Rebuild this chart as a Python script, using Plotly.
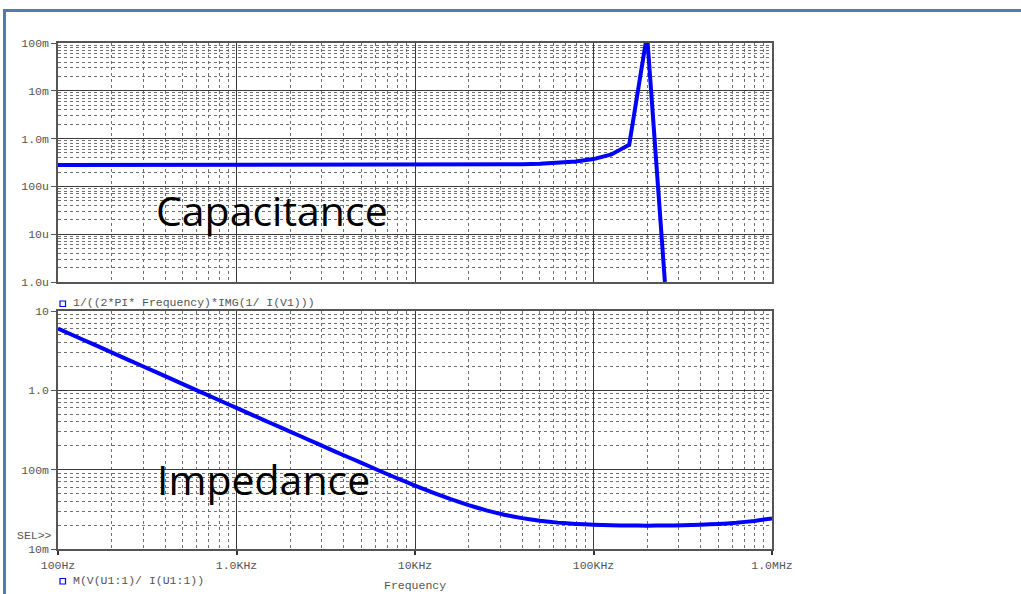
import plotly.graph_objects as go

# ---------------- data ----------------
freq_hz = [100, 125.9, 158.5, 199.5, 251.2, 316.2, 398.1, 501.2, 631.0, 794.3,
           1000, 1259, 1585, 1995, 2512, 3162, 3981, 5012, 6310, 7943,
           10000, 12590, 15850, 19950, 25120, 31620, 39810, 50120, 63100, 79430,
           100000, 125900, 158500, 199500, 251200, 316200, 398100, 501200, 631000, 794300,
           1000000]

capacitance = [2.80e-4, 2.80e-4, 2.80e-4, 2.80e-4, 2.80e-4, 2.80e-4, 2.80e-4, 2.80e-4, 2.80e-4, 2.80e-4,
               2.80e-4, 2.80e-4, 2.80e-4, 2.80e-4, 2.80e-4, 2.80e-4, 2.80e-4, 2.80e-4, 2.80e-4, 2.80e-4,
               2.81e-4, 2.81e-4, 2.82e-4, 2.83e-4, 2.84e-4, 2.87e-4, 2.91e-4, 2.98e-4, 3.09e-4, 3.32e-4,
               3.73e-4, 4.66e-4, 7.45e-4, 0.15, 1.0e-6, None, None, None, None, None,
               None]

impedance = [6.00, 4.77, 3.79, 3.01, 2.39, 1.90, 1.51, 1.20, 0.951, 0.755,
             0.600, 0.477, 0.379, 0.302, 0.240, 0.191, 0.152, 0.122, 0.097, 0.078,
             0.0631, 0.0514, 0.0425, 0.0357, 0.0307, 0.0270, 0.0245, 0.0227, 0.0215, 0.0207,
             0.0202, 0.0199, 0.01975, 0.0197, 0.01975, 0.0199, 0.0202, 0.0207, 0.0214, 0.0226,
             0.0243]

x_tickvals = [100, 1000, 10000, 100000, 1000000]
x_ticktext = ["100Hz", "1.0KHz", "10KHz", "100KHz", "1.0MHz"]
cap_tickvals = [1e-1, 1e-2, 1e-3, 1e-4, 1e-5, 1e-6]
cap_ticktext = ["100m", "10m", "1.0m", "100u", "10u", "1.0u"]
imp_tickvals = [10, 1, 0.1, 0.01]
imp_ticktext = ["10", "1.0", "100m", "10m"]

trace1_label = "1/((2*PI* Frequency)*IMG(1/ I(V1)))"
trace2_label = "M(V(U1:1)/ I(U1:1))"
x_title = "Frequency"

# ---------------- layout helpers ----------------
W, H = 1021, 594
L, R, T, B = 58, 772, 43, 549


def pxx(x):
    return (x - L) / (R - L)


def pyy(y):
    return (B - y) / (B - T)


mono = "Liberation Mono, Courier New, monospace"
tick_font = dict(family=mono, size=11.5, color="#555555")
major_grid = "#3a3a3a"
minor_grid = "#707070"

fig = go.Figure()
fig.add_trace(go.Scatter(x=freq_hz, y=capacitance, mode="lines",
                         line=dict(color="#0000ff", width=4),
                         xaxis="x", yaxis="y", showlegend=False, connectgaps=False))
fig.add_trace(go.Scatter(x=freq_hz, y=impedance, mode="lines",
                         line=dict(color="#0000ff", width=4, shape="spline", smoothing=0.3),
                         xaxis="x2", yaxis="y2", showlegend=False))

minor_cfg = dict(dtick="D1", showgrid=True, gridcolor=minor_grid, griddash="dot",
                 gridwidth=1, ticks="")

common_x = dict(type="log", range=[2, 6], showgrid=True, gridcolor=major_grid, gridwidth=1,
                minor=minor_cfg,
                showline=True, linecolor="#555555", linewidth=1.5, mirror=True,
                zeroline=False, tickvals=x_tickvals, ticktext=x_ticktext,
                tickfont=tick_font)

top_dom = [pyy(282), 1.0]
bot_dom = [0.0, pyy(311)]

common_y = dict(type="log", tickfont=tick_font,
                ticks="outside", ticklen=5, tickcolor="#555555",
                showgrid=True, gridcolor=major_grid, gridwidth=1,
                minor=minor_cfg,
                showline=True, linecolor="#555555", linewidth=1.5, mirror=True, zeroline=False)

fig.update_layout(
    width=W, height=H, autosize=False,
    paper_bgcolor="white", plot_bgcolor="white",
    margin=dict(l=L, r=W - R, t=T, b=H - B),
    xaxis=dict(common_x, anchor="y", showticklabels=False, ticks=""),
    xaxis2=dict(common_x, anchor="y2", matches="x", ticks="outside", ticklen=4,
                tickcolor="#333333", tickwidth=1.5),
    yaxis=dict(common_y, range=[-6, -1], domain=top_dom, anchor="x",
               tickvals=cap_tickvals, ticktext=cap_ticktext),
    yaxis2=dict(common_y, range=[-2, 1], domain=bot_dom, anchor="x2",
                tickvals=imp_tickvals, ticktext=imp_ticktext),
)

frame_color = "#4f7cab"
shapes = [
    dict(type="line", xref="paper", yref="paper", x0=pxx(3), x1=pxx(W),
         y0=pyy(10.5), y1=pyy(10.5), line=dict(color=frame_color, width=3)),
    dict(type="line", xref="paper", yref="paper", x0=pxx(4.5), x1=pxx(4.5),
         y0=pyy(9), y1=pyy(H), line=dict(color=frame_color, width=3)),
    dict(type="rect", xref="paper", yref="paper", x0=pxx(60), x1=pxx(65.5),
         y0=pyy(306.5), y1=pyy(301), line=dict(color="#0000ff", width=1.2)),
    dict(type="rect", xref="paper", yref="paper", x0=pxx(60), x1=pxx(65.5),
         y0=pyy(584), y1=pyy(578.5), line=dict(color="#0000ff", width=1.2)),
]
fig.update_layout(shapes=shapes)

ann = [
    dict(text=trace1_label, x=pxx(71), y=pyy(302.5), xanchor="left", yanchor="middle"),
    dict(text=trace2_label, x=pxx(71), y=pyy(580), xanchor="left", yanchor="middle"),
    dict(text=x_title, x=pxx(415), y=pyy(577), xanchor="center", yanchor="top"),
    dict(text="SEL>>", x=pxx(54), y=pyy(535.5), xanchor="right", yanchor="middle"),
]
annotations = []
for a in ann:
    a.update(xref="paper", yref="paper", showarrow=False,
             font=dict(family=mono, size=11.5, color="#555555"))
    annotations.append(a)

big_font = dict(family="Open Sans, Noto Sans, sans-serif", size=41, color="black")
annotations.append(dict(text="Capacitance", x=pxx(154), y=pyy(210), xref="paper", yref="paper",
                        xanchor="left", yanchor="middle", showarrow=False, font=big_font))
annotations.append(dict(text="Impedance", x=pxx(155), y=pyy(479), xref="paper", yref="paper",
                        xanchor="left", yanchor="middle", showarrow=False, font=big_font))
fig.update_layout(annotations=annotations)

fig.write_html("out.html",
               config={"displayModeBar": False},
               post_script="document.body.style.margin='0px';document.body.style.overflow='hidden';")
